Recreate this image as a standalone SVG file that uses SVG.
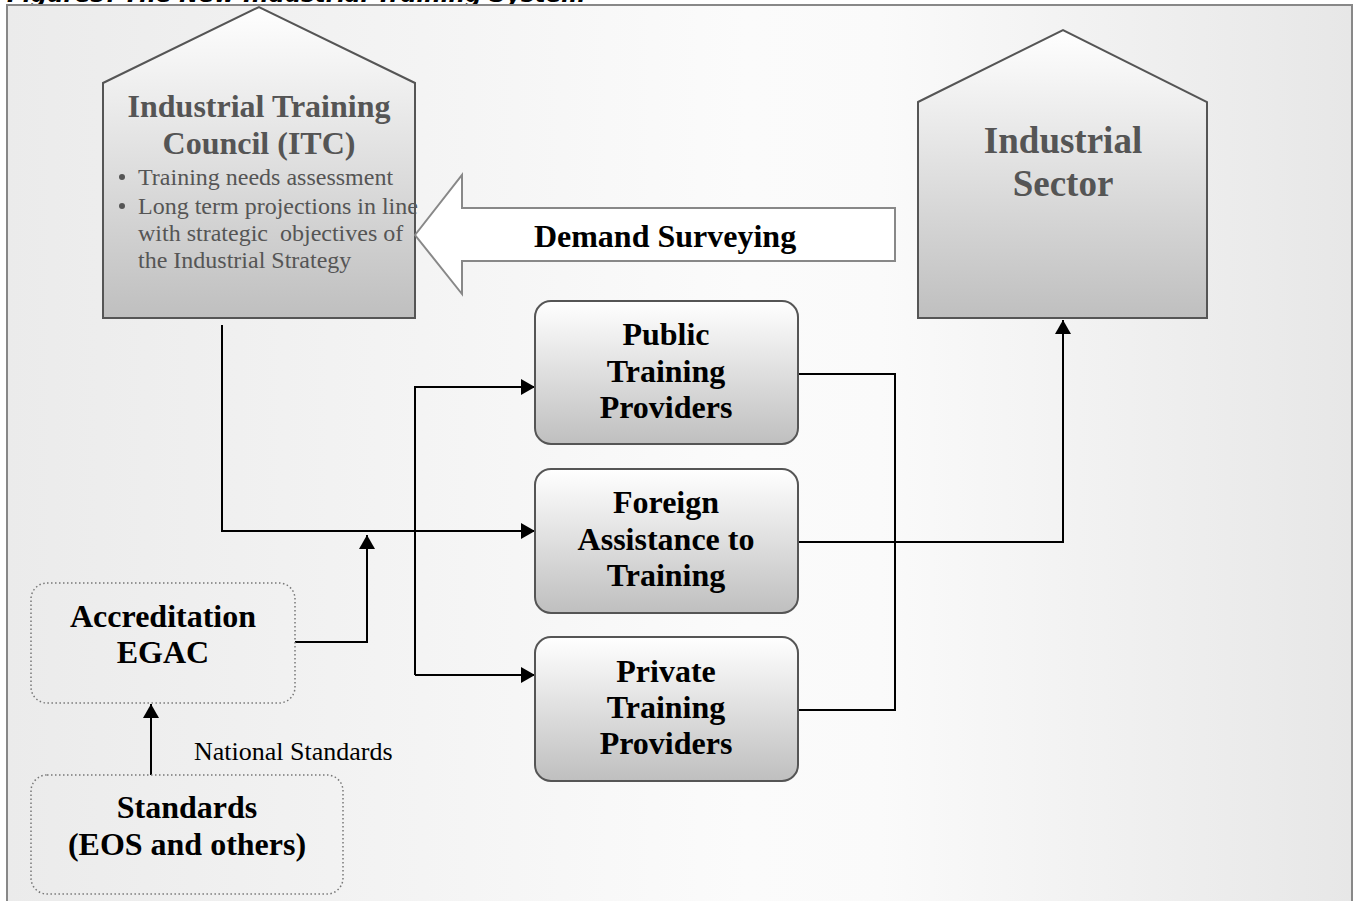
<svg xmlns="http://www.w3.org/2000/svg" width="1358" height="901" viewBox="0 0 1358 901">
  <style>
    .title { font-family: "DejaVu Sans", Verdana, sans-serif; font-weight: bold; font-style: italic; font-size: 23px; fill: #000; }
    .house { stroke: #555; stroke-width: 2; fill: url(#boxFill); }
    .box { stroke: #555; stroke-width: 2; fill: url(#boxFill); }
    .dotted { stroke: #777; stroke-width: 1.5; stroke-dasharray: 1.5 2.5; fill: none; }
    .head { font-family: "Liberation Serif", "Times New Roman", serif; font-weight: bold; font-size: 32px; fill: #555; text-anchor: middle; }
    .big { font-family: "Liberation Serif", "Times New Roman", serif; font-weight: bold; font-size: 37px; fill: #555; text-anchor: middle; }
    .label { font-family: "Liberation Serif", "Times New Roman", serif; font-weight: bold; font-size: 32px; fill: #000; text-anchor: middle; }
    .bullet { font-family: "Liberation Serif", "Times New Roman", serif; font-size: 24px; fill: #555; }
    .plain { font-family: "Liberation Serif", "Times New Roman", serif; font-size: 26px; fill: #000; }
    .wire { stroke: #000; stroke-width: 2; fill: none; }
    .wire-arrow { stroke: #000; stroke-width: 2; fill: none; marker-end: url(#arrow); }
  </style>
  <defs>
    <linearGradient id="bgFill" x1="0" y1="0" x2="1" y2="0">
      <stop offset="0" stop-color="#ebebeb"/>
      <stop offset="0.55" stop-color="#fbfbfb"/>
      <stop offset="0.65" stop-color="#fafafa"/>
      <stop offset="1" stop-color="#e7e7e7"/>
    </linearGradient>
    <linearGradient id="boxFill" x1="0" y1="0" x2="0" y2="1">
      <stop offset="0" stop-color="#ffffff"/>
      <stop offset="1" stop-color="#bfbfbf"/>
    </linearGradient>
    <marker id="arrow" viewBox="0 0 14 16" refX="14" refY="8" markerWidth="14" markerHeight="16" markerUnits="userSpaceOnUse" orient="auto">
      <path d="M0,0 L14,8 L0,16 Z" fill="#000"/>
    </marker>
  </defs>

  <!-- caption, clipped at the top edge -->
  <text class="title" x="7" y="2">Figure5: The New Industrial Training System</text>

  <!-- frame -->
  <rect x="7" y="5" width="1345" height="905" fill="url(#bgFill)" stroke="#888" stroke-width="2"/>

  <!-- connectors -->
  <g id="connectors">
    <polyline class="wire-arrow" points="222,325 222,531 535,531"/>
    <polyline class="wire-arrow" points="415,675 415,387 535,387"/>
    <line class="wire-arrow" x1="415" y1="675" x2="535" y2="675"/>
    <polyline class="wire-arrow" points="295,642 367,642 367,535"/>
    <line class="wire-arrow" x1="151" y1="775" x2="151" y2="704"/>
    <polyline class="wire" points="798,374 895,374 895,710 798,710"/>
    <polyline class="wire-arrow" points="798,542 1063,542 1063,320"/>
  </g>

  <!-- Industrial Training Council -->
  <g id="itc">
    <polygon class="house" points="103,83 259,7 415,83 415,318 103,318"/>
    <text class="head" x="259" y="117">Industrial Training</text>
    <text class="head" x="259" y="154">Council (ITC)</text>
    <circle cx="122" cy="177" r="3" fill="#555"/>
    <text class="bullet" x="138" y="185">Training needs assessment</text>
    <circle cx="122" cy="206" r="3" fill="#555"/>
    <text class="bullet" x="138" y="214">Long term projections in line</text>
    <text class="bullet" x="138" y="241" xml:space="preserve">with strategic  objectives of</text>
    <text class="bullet" x="138" y="268">the Industrial Strategy</text>
  </g>

  <!-- Demand surveying arrow -->
  <g id="demand">
    <polygon points="415,235 462,175 462,208 895,208 895,261 462,261 462,294" fill="#fff" stroke="#888" stroke-width="2"/>
    <text class="label" x="665" y="247">Demand Surveying</text>
  </g>

  <!-- Industrial Sector -->
  <g id="sector">
    <polygon class="house" points="918,102 1063,30 1207,102 1207,318 918,318"/>
    <text class="big" x="1063" y="153">Industrial</text>
    <text class="big" x="1063" y="196">Sector</text>
  </g>

  <!-- Training providers -->
  <g id="public">
    <rect class="box" x="535" y="301" width="263" height="143" rx="16"/>
    <text class="label" x="666" y="345">Public</text>
    <text class="label" x="666" y="382">Training</text>
    <text class="label" x="666" y="418">Providers</text>
  </g>
  <g id="foreign">
    <rect class="box" x="535" y="469" width="263" height="144" rx="16"/>
    <text class="label" x="666" y="513">Foreign</text>
    <text class="label" x="666" y="550">Assistance to</text>
    <text class="label" x="666" y="586">Training</text>
  </g>
  <g id="private">
    <rect class="box" x="535" y="637" width="263" height="144" rx="16"/>
    <text class="label" x="666" y="682">Private</text>
    <text class="label" x="666" y="718">Training</text>
    <text class="label" x="666" y="754">Providers</text>
  </g>

  <!-- Accreditation -->
  <g id="accreditation">
    <rect class="dotted" x="31" y="583" width="264" height="120" rx="16"/>
    <text class="label" x="163" y="627">Accreditation</text>
    <text class="label" x="163" y="663">EGAC</text>
  </g>

  <!-- Standards -->
  <g id="standards">
    <rect class="dotted" x="31" y="775" width="312" height="119" rx="16"/>
    <text class="label" x="187" y="818">Standards</text>
    <text class="label" x="187" y="855">(EOS and others)</text>
  </g>

  <text class="plain" x="194" y="760">National Standards</text>
</svg>
